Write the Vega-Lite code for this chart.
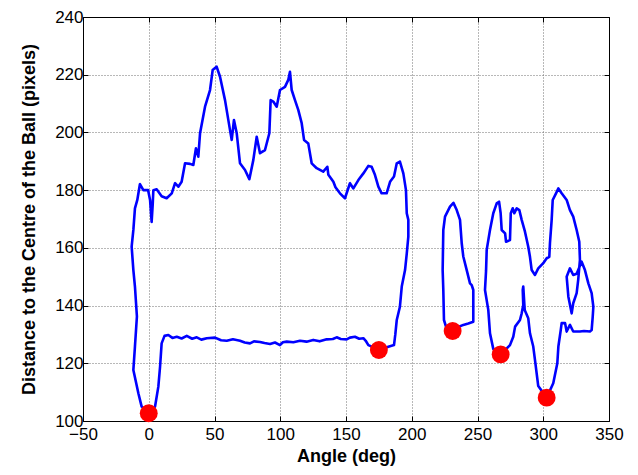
{
  "$schema": "https://vega.github.io/schema/vega-lite/v6.json",
  "width": 526,
  "height": 404,
  "autosize": "none",
  "padding": {"left": 83, "top": 17, "right": 29, "bottom": 54},
  "background": "white",
  "config": {"view": {"stroke": null}, "font": "Liberation Sans"},
  "resolve": {"axis": {"x": "independent", "y": "independent"}},
  "layer": [
    {
      "data": {"values": [
        {"s":1,"i":1,"angle":0,"dist":102.7},{"s":1,"i":2,"angle":4.8,"dist":105},{"s":1,"i":3,"angle":7.3,"dist":111.9},{"s":1,"i":4,"angle":8.6,"dist":118.8},{"s":1,"i":5,"angle":9.8,"dist":126.9},{"s":1,"i":6,"angle":12,"dist":129.5},{"s":1,"i":7,"angle":14.9,"dist":129.8},{"s":1,"i":8,"angle":18,"dist":128.8},{"s":1,"i":9,"angle":21.3,"dist":129.2},{"s":1,"i":10,"angle":25,"dist":128.6},
        {"s":1,"i":11,"angle":28.9,"dist":129.5},{"s":1,"i":12,"angle":33,"dist":128.5},{"s":1,"i":13,"angle":36.5,"dist":129},{"s":1,"i":14,"angle":40,"dist":128.2},{"s":1,"i":15,"angle":44.1,"dist":128.7},{"s":1,"i":16,"angle":50.4,"dist":128.9},{"s":1,"i":17,"angle":55,"dist":128},{"s":1,"i":18,"angle":59.3,"dist":127.8},{"s":1,"i":19,"angle":64,"dist":128.3},{"s":1,"i":20,"angle":69.4,"dist":127.8},
        {"s":1,"i":21,"angle":73,"dist":127.2},{"s":1,"i":22,"angle":77,"dist":126.9},{"s":1,"i":23,"angle":80,"dist":127.6},{"s":1,"i":24,"angle":84.6,"dist":127.4},{"s":1,"i":25,"angle":88,"dist":127},{"s":1,"i":26,"angle":92.2,"dist":126.7},{"s":1,"i":27,"angle":96,"dist":127.2},{"s":1,"i":28,"angle":99.8,"dist":126.3},{"s":1,"i":29,"angle":102,"dist":127.3},{"s":1,"i":30,"angle":104.9,"dist":127.5},
        {"s":1,"i":31,"angle":110,"dist":127.3},{"s":1,"i":32,"angle":115,"dist":127.8},{"s":1,"i":33,"angle":120,"dist":127.5},{"s":1,"i":34,"angle":125.1,"dist":128.1},{"s":1,"i":35,"angle":130,"dist":127.6},{"s":1,"i":36,"angle":135.3,"dist":128.3},{"s":1,"i":37,"angle":140,"dist":128.4},{"s":1,"i":38,"angle":142.9,"dist":129},{"s":1,"i":39,"angle":146,"dist":128.4},{"s":1,"i":40,"angle":150.5,"dist":128.3},
        {"s":1,"i":41,"angle":153,"dist":128.9},{"s":1,"i":42,"angle":156.8,"dist":129.2},{"s":1,"i":43,"angle":160,"dist":128.5},{"s":1,"i":44,"angle":163.2,"dist":128.7},{"s":1,"i":45,"angle":165,"dist":127.8},{"s":1,"i":46,"angle":167,"dist":126.3},{"s":1,"i":47,"angle":171,"dist":125.5},{"s":1,"i":48,"angle":175,"dist":124.6},{"s":1,"i":49,"angle":179,"dist":125.2},{"s":1,"i":50,"angle":182.2,"dist":125.7},
        {"s":1,"i":51,"angle":186.5,"dist":126.3},{"s":1,"i":52,"angle":187.5,"dist":130},{"s":1,"i":53,"angle":188.6,"dist":135},{"s":1,"i":54,"angle":191,"dist":139.6},{"s":1,"i":55,"angle":192.4,"dist":146.6},{"s":1,"i":56,"angle":194.9,"dist":152.3},{"s":1,"i":57,"angle":196.2,"dist":158},{"s":1,"i":58,"angle":197.4,"dist":163.9},{"s":1,"i":59,"angle":197.4,"dist":169.7},{"s":1,"i":60,"angle":196.2,"dist":172},
        {"s":1,"i":61,"angle":195.6,"dist":180},{"s":1,"i":62,"angle":193.6,"dist":185.8},{"s":1,"i":63,"angle":191,"dist":189.9},{"s":1,"i":64,"angle":188.6,"dist":189.3},{"s":1,"i":65,"angle":186.5,"dist":184.7},{"s":1,"i":66,"angle":183.5,"dist":182.9},{"s":1,"i":67,"angle":180.9,"dist":178.9},{"s":1,"i":68,"angle":177.1,"dist":178.9},{"s":1,"i":69,"angle":174.6,"dist":181.2},{"s":1,"i":70,"angle":172,"dist":185.3},
        {"s":1,"i":71,"angle":169.5,"dist":188.1},{"s":1,"i":72,"angle":167,"dist":188.4},{"s":1,"i":73,"angle":163.2,"dist":185.8},{"s":1,"i":74,"angle":159.4,"dist":183.5},{"s":1,"i":75,"angle":155.6,"dist":180.6},{"s":1,"i":76,"angle":153,"dist":182.4},{"s":1,"i":77,"angle":149.2,"dist":177.2},{"s":1,"i":78,"angle":145.4,"dist":178.9},{"s":1,"i":79,"angle":142,"dist":181},{"s":1,"i":80,"angle":140.4,"dist":182.9},
        {"s":1,"i":81,"angle":136.6,"dist":185.3},{"s":1,"i":82,"angle":135.8,"dist":188.1},{"s":1,"i":83,"angle":132.7,"dist":186.4},{"s":1,"i":84,"angle":127.7,"dist":187.6},{"s":1,"i":85,"angle":123.9,"dist":189.3},{"s":1,"i":86,"angle":121.3,"dist":196.2},{"s":1,"i":87,"angle":118.1,"dist":197.4},{"s":1,"i":88,"angle":116.3,"dist":203.2},{"s":1,"i":89,"angle":113.7,"dist":207.8},{"s":1,"i":90,"angle":111.2,"dist":211.2},
        {"s":1,"i":91,"angle":108.7,"dist":214.7},{"s":1,"i":92,"angle":107.4,"dist":221},{"s":1,"i":93,"angle":106.1,"dist":218.2},{"s":1,"i":94,"angle":103.6,"dist":215.8},{"s":1,"i":95,"angle":99.8,"dist":214.7},{"s":1,"i":96,"angle":97.3,"dist":208.9},{"s":1,"i":97,"angle":94.7,"dist":210.7},{"s":1,"i":98,"angle":92.7,"dist":211.2},{"s":1,"i":99,"angle":91.7,"dist":199.7},{"s":1,"i":100,"angle":88.4,"dist":193.9},
        {"s":1,"i":101,"angle":84.6,"dist":192.8},{"s":1,"i":102,"angle":82.1,"dist":198.5},{"s":1,"i":103,"angle":79.5,"dist":190.4},{"s":1,"i":104,"angle":76.5,"dist":183.8},{"s":1,"i":105,"angle":73.2,"dist":187},{"s":1,"i":106,"angle":69.4,"dist":189.3},{"s":1,"i":107,"angle":66.9,"dist":199.7},{"s":1,"i":108,"angle":64.8,"dist":204.3},{"s":1,"i":109,"angle":63.1,"dist":197.4},{"s":1,"i":110,"angle":61.8,"dist":200.8},
        {"s":1,"i":111,"angle":58,"dist":211.2},{"s":1,"i":112,"angle":54.2,"dist":219.3},{"s":1,"i":113,"angle":51.6,"dist":222.8},{"s":1,"i":114,"angle":48.6,"dist":221.6},{"s":1,"i":115,"angle":46.6,"dist":214.7},{"s":1,"i":116,"angle":42.8,"dist":208.9},{"s":1,"i":117,"angle":39,"dist":199.7},{"s":1,"i":118,"angle":37.7,"dist":191.6},{"s":1,"i":119,"angle":35.9,"dist":194.5},{"s":1,"i":120,"angle":33.9,"dist":188.7},
        {"s":1,"i":121,"angle":31.4,"dist":189.1},{"s":1,"i":122,"angle":27.6,"dist":189.3},{"s":1,"i":123,"angle":25,"dist":182.9},{"s":1,"i":124,"angle":22.5,"dist":181.2},{"s":1,"i":125,"angle":20,"dist":182.4},{"s":1,"i":126,"angle":17.5,"dist":178.9},{"s":1,"i":127,"angle":13.6,"dist":177.2},{"s":1,"i":128,"angle":9.8,"dist":177.9},{"s":1,"i":129,"angle":6,"dist":180.3},{"s":1,"i":130,"angle":3.5,"dist":180},
        {"s":1,"i":131,"angle":3,"dist":175},{"s":1,"i":132,"angle":2.2,"dist":169},{"s":1,"i":133,"angle":1,"dist":176.6},{"s":1,"i":134,"angle":-0.5,"dist":180},{"s":1,"i":135,"angle":-4.1,"dist":180},{"s":1,"i":136,"angle":-6.7,"dist":182.1},{"s":1,"i":137,"angle":-8.7,"dist":176.6},{"s":1,"i":138,"angle":-10.5,"dist":173.7},{"s":1,"i":139,"angle":-11.7,"dist":166.2},{"s":1,"i":140,"angle":-13,"dist":160.4},
        {"s":1,"i":141,"angle":-11.7,"dist":152.3},{"s":1,"i":142,"angle":-10.5,"dist":146.6},{"s":1,"i":143,"angle":-9,"dist":136.2},{"s":1,"i":144,"angle":-10.5,"dist":125.8},{"s":1,"i":145,"angle":-11.7,"dist":117.7},{"s":1,"i":146,"angle":-7.9,"dist":109.6},{"s":1,"i":147,"angle":-5.4,"dist":105},{"s":1,"i":148,"angle":0,"dist":102.7},
        {"s":2,"i":1,"angle":231.1,"dist":131.2},{"s":2,"i":2,"angle":235,"dist":132.5},{"s":2,"i":3,"angle":239.2,"dist":133.3},{"s":2,"i":4,"angle":243,"dist":133.8},{"s":2,"i":5,"angle":246.8,"dist":134.4},{"s":2,"i":6,"angle":246.8,"dist":145.4},{"s":2,"i":7,"angle":245.6,"dist":147.1},{"s":2,"i":8,"angle":244.3,"dist":147.7},{"s":2,"i":9,"angle":241.8,"dist":152.3},{"s":2,"i":10,"angle":239.2,"dist":157},
        {"s":2,"i":11,"angle":238,"dist":161.6},{"s":2,"i":12,"angle":236.7,"dist":169.7},{"s":2,"i":13,"angle":234.2,"dist":173.1},{"s":2,"i":14,"angle":231.7,"dist":175.6},{"s":2,"i":15,"angle":229.1,"dist":174.3},{"s":2,"i":16,"angle":225.3,"dist":170.8},{"s":2,"i":17,"angle":224,"dist":166.2},{"s":2,"i":18,"angle":223.5,"dist":152.3},{"s":2,"i":19,"angle":224,"dist":145.4},{"s":2,"i":20,"angle":224.5,"dist":135},
        {"s":2,"i":21,"angle":226.5,"dist":132},{"s":2,"i":22,"angle":231.1,"dist":131.2},
        {"s":3,"i":1,"angle":267.6,"dist":123.1},{"s":3,"i":2,"angle":262,"dist":125},{"s":3,"i":3,"angle":259.5,"dist":130.4},{"s":3,"i":4,"angle":258.2,"dist":138.5},{"s":3,"i":5,"angle":255.7,"dist":145.4},{"s":3,"i":6,"angle":256.5,"dist":152},{"s":3,"i":7,"angle":257,"dist":159.3},{"s":3,"i":8,"angle":259.5,"dist":166.2},{"s":3,"i":9,"angle":262,"dist":172},{"s":3,"i":10,"angle":264.6,"dist":175.4},
        {"s":3,"i":11,"angle":266.4,"dist":176},{"s":3,"i":12,"angle":267.6,"dist":172},{"s":3,"i":13,"angle":268.4,"dist":166.2},{"s":3,"i":14,"angle":271,"dist":165},{"s":3,"i":15,"angle":271.7,"dist":162.1},{"s":3,"i":16,"angle":274.7,"dist":162.7},{"s":3,"i":17,"angle":275.3,"dist":172},{"s":3,"i":18,"angle":276.8,"dist":173.7},{"s":3,"i":19,"angle":278,"dist":172},{"s":3,"i":20,"angle":279.8,"dist":173.7},
        {"s":3,"i":21,"angle":281.8,"dist":173.1},{"s":3,"i":22,"angle":283.6,"dist":169.7},{"s":3,"i":23,"angle":286.1,"dist":165.6},{"s":3,"i":24,"angle":288.6,"dist":160.4},{"s":3,"i":25,"angle":289.9,"dist":156.9},{"s":3,"i":26,"angle":291.2,"dist":152.3},{"s":3,"i":27,"angle":293.7,"dist":150.6},{"s":3,"i":28,"angle":296.2,"dist":152.9},{"s":3,"i":29,"angle":300,"dist":154.7},{"s":3,"i":30,"angle":302.6,"dist":156.4},
        {"s":3,"i":31,"angle":304.6,"dist":156.9},{"s":3,"i":32,"angle":305.1,"dist":161.6},{"s":3,"i":33,"angle":306.4,"dist":169.7},{"s":3,"i":34,"angle":307.2,"dist":176.6},{"s":3,"i":35,"angle":309.7,"dist":178.9},{"s":3,"i":36,"angle":311.5,"dist":180.6},{"s":3,"i":37,"angle":314,"dist":178.9},{"s":3,"i":38,"angle":317.8,"dist":176.6},{"s":3,"i":39,"angle":320.3,"dist":173.1},{"s":3,"i":40,"angle":322.8,"dist":170.8},
        {"s":3,"i":41,"angle":325.4,"dist":166.2},{"s":3,"i":42,"angle":327.4,"dist":162.1},{"s":3,"i":43,"angle":327.9,"dist":155.8},{"s":3,"i":44,"angle":326.6,"dist":149},{"s":3,"i":45,"angle":325.4,"dist":144.3},{"s":3,"i":46,"angle":322.8,"dist":140.8},{"s":3,"i":47,"angle":321.6,"dist":137.3},{"s":3,"i":48,"angle":319.1,"dist":143.1},{"s":3,"i":49,"angle":317.8,"dist":150},{"s":3,"i":50,"angle":320.3,"dist":152.9},
        {"s":3,"i":51,"angle":322.8,"dist":150.6},{"s":3,"i":52,"angle":325.4,"dist":151},{"s":3,"i":53,"angle":329.2,"dist":155.2},{"s":3,"i":54,"angle":331.7,"dist":152.3},{"s":3,"i":55,"angle":334.3,"dist":147.7},{"s":3,"i":56,"angle":336.8,"dist":144.3},{"s":3,"i":57,"angle":338.1,"dist":139.6},{"s":3,"i":58,"angle":337.6,"dist":136},{"s":3,"i":59,"angle":336.8,"dist":131.5},{"s":3,"i":60,"angle":335.5,"dist":131},
        {"s":3,"i":61,"angle":331,"dist":131.2},{"s":3,"i":62,"angle":327.9,"dist":131},{"s":3,"i":63,"angle":322.8,"dist":131},{"s":3,"i":64,"angle":320.3,"dist":133.3},{"s":3,"i":65,"angle":317.8,"dist":131},{"s":3,"i":66,"angle":316.6,"dist":133.9},{"s":3,"i":67,"angle":314,"dist":133.9},{"s":3,"i":68,"angle":313.3,"dist":131.5},{"s":3,"i":69,"angle":311.5,"dist":125.8},{"s":3,"i":70,"angle":310.7,"dist":120},
        {"s":3,"i":71,"angle":307.6,"dist":113.1},{"s":3,"i":72,"angle":302.6,"dist":108.1},{"s":3,"i":73,"angle":296.2,"dist":112.1},{"s":3,"i":74,"angle":293.7,"dist":121.2},{"s":3,"i":75,"angle":292.4,"dist":125.8},{"s":3,"i":76,"angle":289.9,"dist":130.4},{"s":3,"i":77,"angle":288.6,"dist":135.6},{"s":3,"i":78,"angle":285.9,"dist":138.5},{"s":3,"i":79,"angle":284.8,"dist":146.6},{"s":3,"i":80,"angle":284.4,"dist":145.4},
        {"s":3,"i":81,"angle":284.8,"dist":140.2},{"s":3,"i":82,"angle":283.6,"dist":137.3},{"s":3,"i":83,"angle":282.3,"dist":135},{"s":3,"i":84,"angle":278.6,"dist":132.7},{"s":3,"i":85,"angle":277.2,"dist":129.2},{"s":3,"i":86,"angle":274.7,"dist":126.3},{"s":3,"i":87,"angle":267.6,"dist":123.1}
      ]},
      "mark": {"type": "line", "color": "#0000ff", "strokeWidth": 2.6, "strokeJoin": "round"},
      "encoding": {
        "x": {"field": "angle", "type": "quantitative", "scale": {"domain": [-50, 350], "nice": false, "zero": false},
          "axis": {"orient": "bottom", "values": [-50,0,50,100,150,200,250,300,350], "grid": true, "gridColor": "#707070", "gridDash": [1,2], "gridWidth": 1,
            "domainColor": "black", "domainWidth": 1, "tickColor": "black", "tickSize": -5, "labelFont": "Liberation Sans", "labelFontSize": 17, "labelColor": "black",
            "labelPadding": 10, "labelFlush": false, "labelOverlap": false, "title": "Angle (deg)", "titleFont": "Liberation Sans", "titleFontSize": 18, "titleFontWeight": "bold", "titleColor": "black", "titlePadding": 5}},
        "y": {"field": "dist", "type": "quantitative", "scale": {"domain": [100, 240], "nice": false, "zero": false},
          "axis": {"orient": "left", "values": [100,120,140,160,180,200,220,240], "grid": true, "gridColor": "#707070", "gridDash": [1,2], "gridWidth": 1,
            "domainColor": "black", "domainWidth": 1, "tickColor": "black", "tickSize": -5, "labelFont": "Liberation Sans", "labelFontSize": 17, "labelColor": "black",
            "labelPadding": 5, "labelFlush": false, "labelOverlap": false, "title": "Distance to the Centre of the Ball (pixels)", "titleFont": "Liberation Sans", "titleFontSize": 18, "titleFontWeight": "bold", "titleColor": "black", "titlePadding": 16}},
        "detail": {"field": "s", "type": "nominal"},
        "order": {"field": "i", "type": "quantitative"}
      }
    },
    {
      "data": {"values": [
        {"angle": 0, "dist": 102.7}, {"angle": 175, "dist": 124.6}, {"angle": 231.1, "dist": 131.2}, {"angle": 267.6, "dist": 123.1}, {"angle": 302.6, "dist": 108.1}
      ]},
      "mark": {"type": "circle", "color": "#ff0000", "opacity": 1, "size": 320},
      "encoding": {
        "x": {"field": "angle", "type": "quantitative", "scale": {"domain": [-50, 350], "nice": false, "zero": false},
          "axis": {"orient": "top", "values": [-50,0,50,100,150,200,250,300,350], "grid": false, "labels": false, "title": null, "domainColor": "black", "domainWidth": 1, "tickColor": "black", "tickSize": -5}},
        "y": {"field": "dist", "type": "quantitative", "scale": {"domain": [100, 240], "nice": false, "zero": false},
          "axis": {"orient": "right", "values": [100,120,140,160,180,200,220,240], "grid": false, "labels": false, "title": null, "domainColor": "black", "domainWidth": 1, "tickColor": "black", "tickSize": -5}}
      }
    }
  ]
}
